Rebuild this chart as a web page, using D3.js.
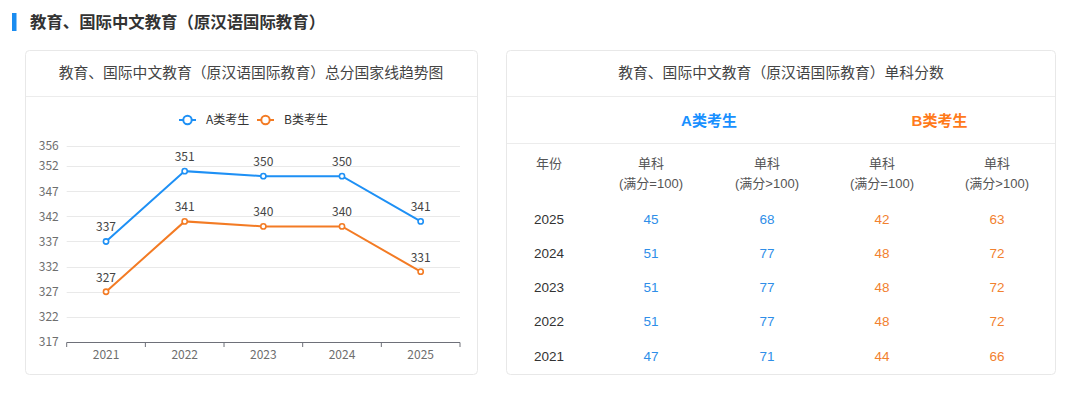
<!DOCTYPE html>
<html><head><meta charset="utf-8">
<script src="https://cdn.jsdelivr.net/npm/d3@7/dist/d3.min.js"></script>
<style>
html,body{margin:0;padding:0;background:#fff;}
svg{display:block;font-family:"Microsoft YaHei","Noto Sans CJK SC",sans-serif;}
</style></head>
<body>
<svg id="c" width="1080" height="394"></svg>
<script>
const pageTitle = "教育、国际中文教育（原汉语国际教育）";
const chartTitle = "教育、国际中文教育（原汉语国际教育）总分国家线趋势图";
const tableTitle = "教育、国际中文教育（原汉语国际教育）单科分数";
const years = ["2021","2022","2023","2024","2025"];
const seriesNames = ["A类考生","B类考生"];
const totalA = [337,351,350,350,341];
const totalB = [327,341,340,340,331];
const yTicks = [317,322,327,332,337,342,347,352,356];
const tableYears = ["2025","2024","2023","2022","2021"];
const singleA100 = [45,51,51,51,47];
const singleAOver = [68,77,77,77,71];
const singleB100 = [42,48,48,48,44];
const singleBOver = [63,72,72,72,66];
const colHeads = ["单科","单科","单科","单科"];
const colSubs = ["(满分=100)","(满分>100)","(满分=100)","(满分>100)"];

const BLUE = "#1e90f5", ORANGE = "#f37b24";
const TBLUE = "#2f8ee8", TORANGE = "#f2812f";
const svg = d3.select("#c");
const cjk = '"Microsoft YaHei","Noto Sans CJK SC",sans-serif';
const lat = '"Liberation Sans",Arial,"Noto Sans CJK SC",sans-serif';

// page heading
svg.append("rect").attr("x",12).attr("y",13).attr("width",4.5).attr("height",18).attr("fill","#1a8cf0");
svg.append("text").attr("x",30).attr("y",27.8).attr("font-size",16.4).attr("font-weight","bold")
  .attr("fill","#333").attr("font-family",cjk).text(pageTitle);

// panels
function panel(x0,x1){
  svg.append("rect").attr("x",x0+0.5).attr("y",50.5).attr("width",x1-x0).attr("height",324)
    .attr("rx",4).attr("fill","#fff").attr("stroke","#e8e8e8");
  svg.append("line").attr("x1",x0+1).attr("x2",x1).attr("y1",96.5).attr("y2",96.5).attr("stroke","#ececec");
}
panel(25,477);
panel(506,1055);
svg.append("text").attr("x",251).attr("y",78).attr("text-anchor","middle").attr("font-size",14.8)
  .attr("fill","#444").attr("font-family",cjk).text(chartTitle);
svg.append("text").attr("x",781).attr("y",78).attr("text-anchor","middle").attr("font-size",14.8)
  .attr("fill","#444").attr("font-family",cjk).text(tableTitle);

// ---- line chart ----
const x = d3.scaleBand().domain(years).range([66.7,460]);
const y = d3.scaleLinear().domain([317,356]).range([342,146]);
const g = svg.append("g");
g.selectAll(".grid").data(yTicks.slice(1)).join("line")
  .attr("x1",66.7).attr("x2",460).attr("y1",d=>Math.round(y(d))+0.5).attr("y2",d=>Math.round(y(d))+0.5)
  .attr("stroke","#e9e9e9");
const yAxis = g.append("g").attr("transform","translate(66.7,0)")
  .call(d3.axisLeft(y).tickValues(yTicks).tickSize(0).tickPadding(8));
yAxis.select(".domain").remove();
yAxis.selectAll("text").attr("fill","#6e6e6e").attr("font-size",12).attr("font-family",cjk);
const xAxis = g.append("g").attr("transform","translate(0,342.5)")
  .call(d3.axisBottom(x).tickSize(0).tickPadding(8));
xAxis.select(".domain").attr("stroke","#6e7079").attr("d","M66.7,0H460");
xAxis.selectAll("text").attr("fill","#6e6e6e").attr("font-size",12).attr("font-family",cjk);
const bounds = [66.7].concat(years.map(d=>x(d)+x.bandwidth()));
g.selectAll(".xt").data(bounds).join("line").attr("x1",d=>d).attr("x2",d=>d)
  .attr("y1",342.5).attr("y2",347).attr("stroke","#6e7079");

const cx = d=>x(d)+x.bandwidth()/2;
const line = d3.line().x((d,i)=>cx(years[i])).y(d=>y(d));
[[totalA,BLUE],[totalB,ORANGE]].forEach(([vals,col])=>{
  g.append("path").datum(vals).attr("d",line).attr("fill","none").attr("stroke",col).attr("stroke-width",2);
  g.selectAll(null).data(vals).join("circle").attr("cx",(d,i)=>cx(years[i])).attr("cy",d=>y(d))
    .attr("r",2.6).attr("fill","#fff").attr("stroke",col).attr("stroke-width",1.6);
  g.selectAll(null).data(vals).join("text").attr("x",(d,i)=>cx(years[i])).attr("y",d=>y(d)-10)
    .attr("text-anchor","middle").attr("font-size",12).attr("fill","#444").attr("font-family",cjk).text(d=>d);
});

// legend
const legX = [179,257];
seriesNames.forEach((n,i)=>{
  const col = i===0?BLUE:ORANGE;
  const lg = svg.append("g").attr("transform",`translate(${legX[i]},120)`);
  lg.append("line").attr("x1",0).attr("x2",17).attr("stroke",col).attr("stroke-width",2);
  lg.append("circle").attr("cx",8.5).attr("r",4.2).attr("fill","#fff").attr("stroke",col).attr("stroke-width",2);
  lg.append("text").attr("x",27).attr("y",4.3).attr("font-size",12).attr("fill","#333").attr("font-family",cjk).text(n);
});

// ---- table ----
const cols = ["year","a1","a2","b1","b2"];
const colX = d3.scaleOrdinal().domain(cols).range([549,651,767,882,997]);
svg.append("line").attr("x1",507).attr("x2",1055).attr("y1",143.5).attr("y2",143.5).attr("stroke","#ececec");
svg.selectAll(".grp").data(seriesNames).join("text")
  .attr("x",(d,i)=>i===0?(colX("a1")+colX("a2"))/2:(colX("b1")+colX("b2"))/2)
  .attr("y",126).attr("text-anchor","middle").attr("font-size",15).attr("font-weight","bold")
  .attr("fill",(d,i)=>i===0?"#1890ff":"#ff7a1a").attr("font-family",lat).text(d=>d);
svg.append("text").attr("x",colX("year")).attr("y",168).attr("text-anchor","middle").attr("font-size",13)
  .attr("fill","#555").attr("font-family",cjk).text("年份");
svg.selectAll(".ch").data(colHeads).join("text").attr("x",(d,i)=>colX(cols[i+1])).attr("y",168)
  .attr("text-anchor","middle").attr("font-size",13).attr("fill","#555").attr("font-family",cjk).text(d=>d);
svg.selectAll(".cs").data(colSubs).join("text").attr("x",(d,i)=>colX(cols[i+1])).attr("y",187.5)
  .attr("text-anchor","middle").attr("font-size",13).attr("fill","#555").attr("font-family",lat).text(d=>d);

const rowY = d3.scalePoint().domain(tableYears).range([219,356]);
const rows = tableYears.map((yr,i)=>({yr, vals:[singleA100[i],singleAOver[i],singleB100[i],singleBOver[i]]}));
const rg = svg.selectAll(".row").data(rows).join("g").attr("transform",d=>`translate(0,${rowY(d.yr)+4.5})`);
rg.append("text").attr("x",colX("year")).attr("text-anchor","middle").attr("font-size",13.5)
  .attr("fill","#333").attr("font-family",lat).text(d=>d.yr);
rg.selectAll(".v").data(d=>d.vals).join("text").attr("x",(d,i)=>colX(cols[i+1])).attr("text-anchor","middle")
  .attr("font-size",13.5).attr("fill",(d,i)=>i<2?TBLUE:TORANGE).attr("font-family",lat).text(d=>d);
</script>
</body></html>
